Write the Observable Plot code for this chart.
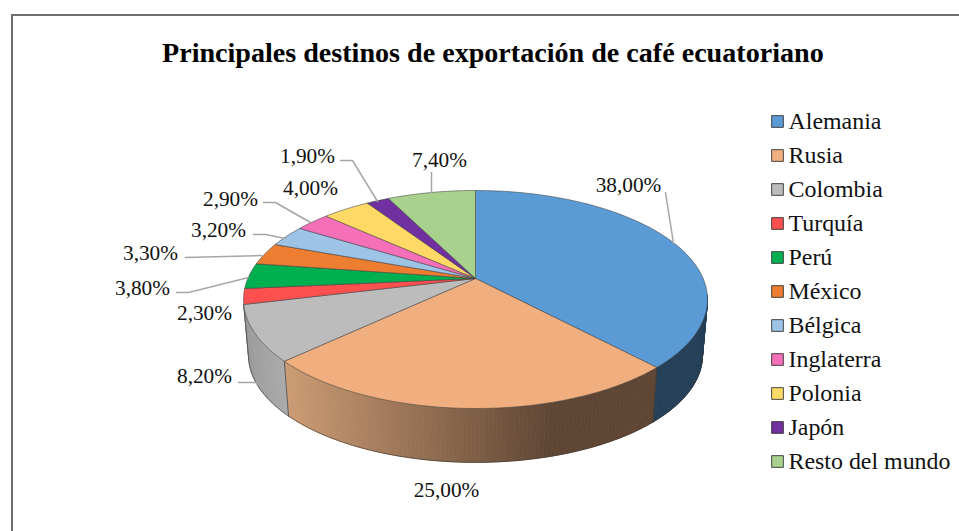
<!DOCTYPE html>
<html lang="es">
<head>
<meta charset="utf-8">
<script src="https://cdn.jsdelivr.net/npm/d3@7"></script>
<script src="https://cdn.jsdelivr.net/npm/@observablehq/plot@0.6"></script>
<style>
html,body{margin:0;padding:0;background:#fff;overflow:hidden}
#frame{position:absolute;left:11px;top:14px;width:948px;height:517px;border-left:2px solid #6d6d6d;border-top:2px solid #6d6d6d}
#title{position:absolute;left:162px;top:37px;white-space:nowrap;font:bold 28.1px "Liberation Serif",serif;color:#000;line-height:32px}
#chart{position:absolute;left:0;top:0}
</style>
</head>
<body>
<div id="frame"></div>
<div id="chart"></div>
<div id="title">Principales destinos de exportación de café ecuatoriano</div>
<script>
const names = ["Alemania","Rusia","Colombia","Turquía","Perú","México","Bélgica","Inglaterra","Polonia","Japón","Resto del mundo"];
const shares = [38.0,25.0,8.2,2.3,3.8,3.3,3.2,2.9,4.0,1.9,7.4];
const colors = ["#5b9bd5","#f1af7f","#bcbcbc","#ff5050","#00b050","#ed7d31","#9dc3e6","#f670b9","#ffd966","#7030a0","#a9d18e"];
const labels = ["38,00%","25,00%","8,20%","2,30%","3,80%","3,30%","3,20%","2,90%","4,00%","1,90%","7,40%"];

// Page layout, in pixels
const cx = 475, cy = 299, rx = 232, ry = 109;
const X = p => (p - cx) / rx, Y = p => (cy - p) / ry;
const labelCentres = [[628,185],[446,490],[204,376],[204,313],[142,288],[150,253],[218,230],[230,199],[310,188],[307,156],[439,160]];
const leaderPaths = [
  [[665,192],[673,243]], null,
  [[238,382],[255,382],[263,387]], null,
  [[176,292],[188,292],[248,277]],
  [[185,257],[261,255]],
  [[253,234],[265,234],[285,238]],
  [[263,202],[275,202],[310,222]], null,
  [[340,160],[352,160],[377,201]],
  [[431,172],[431,192]]
];

// Perspective view of the disc: the centre appears above the middle of the ellipse
const tilt = 0.193, depth = 0.514, shrinkX = 0.978, shrinkY = 0.98;
function rim(share) {
  const t = share / 100 * 2 * Math.PI, a = Math.sin(t), b = Math.cos(t), w = 1 + tilt * b;
  return [a * Math.sqrt(1 - tilt * tilt) / w, (b + tilt) / w];
}
let acc = 0;
const slices = names.map((name, i) => {
  const s = {name, i, start: acc, end: acc + shares[i]};
  acc += shares[i];
  return s;
});

const tops = slices.flatMap(s => {
  const n = Math.max(2, Math.ceil((s.end - s.start) * 4));
  const pts = [[0, tilt]];
  for (let k = 0; k <= n; k++) pts.push(rim(s.start + (s.end - s.start) * k / n));
  pts.push([0, tilt]);
  return pts.map(([x, y]) => ({name: s.name, x, y}));
});

const rusiaShade = d3.interpolateRgb("#cd9c74", "#5f4634");
function wallColour(name, x) {
  if (name === "Alemania") return "#243f58";
  if (name === "Rusia") return rusiaShade(Math.min(1, Math.max(0, (x + 0.83) / 1.15)));
  return d3.interpolateRgb("#9b9b9b", "#ababab")(Math.min(1, Math.max(0, (x + 1) / 0.18)));
}
const wallRanges = [["Alemania", 27.5, 38], ["Rusia", 38, 63], ["Colombia", 63, 71.2]];
const walls = wallRanges.flatMap(([name, from, to]) => {
  const rows = [];
  const step = 0.25;
  for (let v = from, k = 0; v < to - 1e-9; v += step, k++) {
    const v2 = Math.min(to, v + step);
    const [a1, b1] = rim(v), [a2, b2] = rim(v2);
    const col = wallColour(name, (a1 + a2) / 2);
    const id = name + k;
    rows.push({id, col, x: a1, y: b1}, {id, col, x: a2, y: b2},
              {id, col, x: a2 * shrinkX, y: b2 * shrinkY - depth}, {id, col, x: a1 * shrinkX, y: b1 * shrinkY - depth},
              {id, col, x: a1, y: b1});
  }
  return rows;
});
const wallEdges = [];
wallRanges.forEach(([name, from, to]) => {
  for (let v = from; v <= to + 1e-9; v += 0.25) {
    const [a, b] = rim(v);
    wallEdges.push({name, x: a * shrinkX, y: b * shrinkY - depth});
  }
});
const wallSeams = [38, 63, 71.2].flatMap((v, i) => {
  const [a, b] = rim(v);
  return [{i, x: a, y: b}, {i, x: a * shrinkX, y: b * shrinkY - depth}];
});

const leaders = leaderPaths.flatMap((p, i) => p ? p.map(([x, y]) => ({i, x: X(x), y: Y(y)})) : []);
const dataLabels = labels.map((text, i) => ({text, x: X(labelCentres[i][0]), y: Y(labelCentres[i][1])}));
const legendRows = names.map((name, i) => ({name, x: X(777), tx: X(788), y: Y(121 + 34 * i)}));

const font = {fontFamily: "Liberation Serif", fill: "#111"};
const chart = Plot.plot({
  width: 959, height: 531, margin: 0,
  style: {background: "transparent"},
  x: {domain: [-1, 1], range: [cx - rx, cx + rx], axis: null},
  y: {domain: [-1, 1], range: [cy + ry, cy - ry], axis: null},
  color: {domain: names, range: colors},
  marks: [
    Plot.line(walls, {x: "x", y: "y", z: "id", fill: {value: "col", scale: null}, stroke: {value: "col", scale: null}, strokeWidth: 0.8, curve: "linear"}),
    Plot.line(wallEdges, {x: "x", y: "y", z: "name", stroke: "#3a3028", strokeWidth: 0.6, curve: "linear"}),
    Plot.line(wallSeams, {x: "x", y: "y", z: "i", stroke: "#3a3a3a", strokeWidth: 0.7, curve: "linear"}),
    Plot.line(tops, {x: "x", y: "y", z: "name", fill: "name", stroke: "#3c3c3c", strokeWidth: 0.55, curve: "linear"}),
    Plot.line(leaders, {x: "x", y: "y", z: "i", stroke: "#a6a6a6", strokeWidth: 1.5, curve: "linear"}),
    Plot.text(dataLabels, {x: "x", y: "y", text: "text", ...font, fontSize: 21.3, textAnchor: "middle"}),
    Plot.dot(legendRows, {x: "x", y: "y", fill: "name", symbol: "square", r: 6.6, stroke: "#333", strokeWidth: 0.9}),
    Plot.text(legendRows, {x: "tx", y: "y", text: "name", ...font, fontSize: 23.9, textAnchor: "start"})
  ]
});
document.getElementById("chart").append(chart);
</script>
</body>
</html>
